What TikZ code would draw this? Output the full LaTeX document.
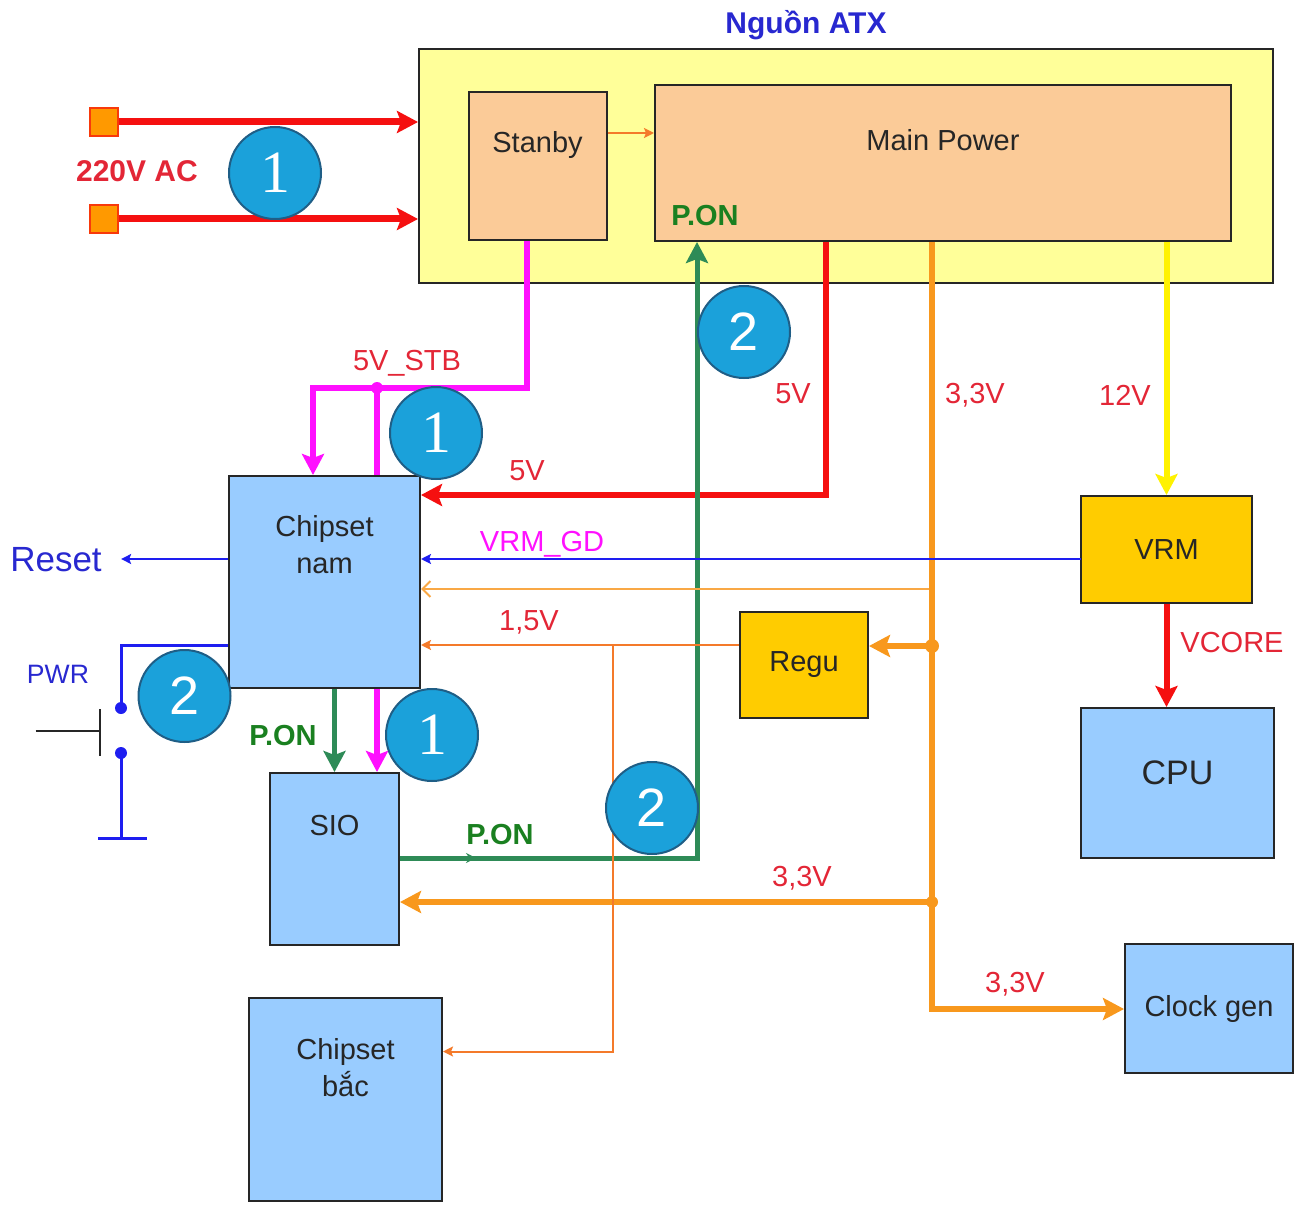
\documentclass[tikz,border=0pt]{standalone}
\usepackage{fontspec}
\setmainfont{Liberation Sans}
\newfontfamily\numserif{Liberation Serif}
\usepackage{tikz}
\usetikzlibrary{arrows.meta,decorations.markings}
\definecolor{boxblue}{HTML}{99CCFF}
\definecolor{peach}{HTML}{FBCB98}
\definecolor{paleyellow}{HTML}{FFFF99}
\definecolor{gold}{HTML}{FFCC00}
\definecolor{badgefill}{HTML}{1BA1DA}
\definecolor{badgeline}{HTML}{1F5E86}
\definecolor{wirered}{HTML}{F51010}
\definecolor{txtred}{HTML}{E32636}
\definecolor{wiremag}{HTML}{FF10FF}
\definecolor{wiregreen}{HTML}{2E8B57}
\definecolor{txtgreen}{HTML}{1A8020}
\definecolor{wireorange}{HTML}{F8981D}
\definecolor{thinorange}{HTML}{F47A2A}
\definecolor{paleorange}{HTML}{F9A845}
\definecolor{wireblue}{HTML}{1E1EF0}
\definecolor{txtblue}{HTML}{2828D0}
\definecolor{acorange}{HTML}{FF9900}
\begin{document}
\begin{tikzpicture}[x=0.5pt,y=-0.5pt,>=Stealth,
  blk/.style={rectangle,draw=black!85,line width=1pt,inner sep=0pt},
  bluebox/.style={blk,fill=boxblue},
  goldbox/.style={blk,fill=gold},
  peachbox/.style={blk,fill=peach},
  txt/.style={font=\fontsize{14.5}{18.5}\selectfont,align=center,text=black!85},
  lbl/.style={font=\fontsize{14.5}{17}\selectfont,text=txtred,inner sep=0pt},
  ponlbl/.style={font=\bfseries\fontsize{14.5}{17}\selectfont,text=txtgreen,inner sep=0pt},
  badge/.style={circle,fill=badgefill,draw=badgeline,line width=1pt,minimum size=46pt,inner sep=0pt,text=white},
  one/.style={badge,font=\numserif\fontsize{30}{30}\selectfont},
  two/.style={badge,font=\fontsize{27}{27}\selectfont},
  bigtip/.style={-{Stealth[length=10.5pt,width=11pt,inset=2pt]}},
  smalltip/.style={-{Stealth[length=5pt,width=5pt,inset=1pt]}},
  acwire/.style={draw=wirered,line width=3.5pt,bigtip},
  stbwire/.style={draw=wiremag,line width=3pt,bigtip},
  v5wire/.style={draw=wirered,line width=3pt,bigtip},
  ponwire/.style={draw=wiregreen,line width=2.5pt,bigtip},
  v33wire/.style={draw=wireorange,line width=3pt,bigtip},
  v12wire/.style={draw=yellow,line width=3pt,bigtip},
  bluewire/.style={draw=wireblue,line width=1pt,smalltip},
  thinwire/.style={draw=thinorange,line width=1pt,smalltip}]
\useasboundingbox (0,0) rectangle (1295,1214);
\node[font=\bfseries\fontsize{15}{18}\selectfont,text=txtblue] (title) at (806,25) {Nguồn ATX};
\node[blk,fill=paleyellow,minimum width=427pt,minimum height=116.5pt] (atx) at (846,166) {};
\node[peachbox,minimum width=69pt,minimum height=74pt,label={[txt,anchor=center,yshift=-27pt]north:Stanby}] (stanby) at (537.5,166) {};
\node[peachbox,minimum width=288pt,minimum height=78pt,label={[txt,anchor=center,yshift=-28pt]north:Main Power}] (main) at (943,163) {};
\node[ponlbl] (pon1) at (705,216) {P.ON};
\node[rectangle,fill=acorange,draw=wirered!70!acorange,line width=0.8pt,minimum size=14pt,inner sep=0pt] (ac1) at (104,122) {};
\node[rectangle,fill=acorange,draw=wirered!70!acorange,line width=0.8pt,minimum size=14pt,inner sep=0pt] (ac2) at (104,219) {};
\node[lbl,font=\bfseries\fontsize{15}{18}\selectfont] (ac) at (137,171) {220V AC};
\node[bluebox,minimum width=95.5pt,minimum height=106pt,label={[txt,anchor=center,yshift=-35pt]north:Chipset\\nam}] (nam) at (324.5,582) {};
\node[bluebox,minimum width=64.5pt,minimum height=86pt,label={[txt,anchor=center,yshift=-27pt]north:SIO}] (sio) at (334.5,859) {};
\node[bluebox,minimum width=96.5pt,minimum height=101.5pt,label={[txt,anchor=center,yshift=-35.5pt]north:Chipset\\bắc}] (bac) at (345.5,1099.5) {};
\node[goldbox,minimum width=64pt,minimum height=53pt,txt] (regu) at (804,665) {Regu};
\node[goldbox,minimum width=85.5pt,minimum height=53.5pt,txt] (vrm) at (1166.5,549.5) {VRM};
\node[bluebox,minimum width=96.5pt,minimum height=75pt,label={[txt,font=\fontsize{17}{20}\selectfont,anchor=center,yshift=5pt]center:CPU}] (cpu) at (1177.5,783) {};
\node[bluebox,minimum width=84pt,minimum height=64.5pt,txt] (clk) at (1209,1008.5) {Clock gen};
\node[font=\fontsize{17.5}{20}\selectfont,text=txtblue,inner xsep=9.5pt,inner ysep=0pt] (reset) at (56,560) {Reset};
\node[font=\fontsize{13.3}{16}\selectfont,text=txtblue,inner sep=0pt] (pwr) at (58,674) {PWR};
\draw[acwire] (ac1.east) -- (ac1.east -| atx.west);
\draw[acwire] (ac2.east) -- (ac2.east -| atx.west);
\coordinate (sbm) at ([yshift=16.5pt]stanby.east);
\draw[thinwire] (sbm) -- (sbm -| main.west);
\coordinate (stbl) at (313,388);
\coordinate (stbj) at (377,388);
\draw[stbwire] ([xshift=-5.5pt]stanby.south) |- (stbl) -- (stbl |- nam.north);
\draw[stbwire,-] (stbj) -- (stbj |- nam.north);
\fill[wiremag] (stbj) circle (3pt);
\draw[stbwire] (stbj |- nam.south) -- (stbj |- sio.north);
\node[lbl] (stb) at (407,363) {5V\_STB};
\coordinate (c5v) at (826,495);
\draw[v5wire] (main.south -| c5v) -- (c5v) -- (c5v -| nam.east);
\node[lbl] (v5a) at (793,394) {5V};
\node[lbl] (v5b) at (527,471) {5V};
\coordinate (cpon) at (697,858);
\draw[ponwire,postaction={decorate},decoration={markings,mark=at position 38pt with {\arrow{Stealth[length=5pt,width=5pt]}}}] (sio.east |- cpon) -- (cpon) -- (cpon |- main.south);
\node[ponlbl] (pon2) at (500,835) {P.ON};
\draw[ponwire] (sio.north |- nam.south) -- (sio.north);
\node[ponlbl] (pon3) at (283,736) {P.ON};
\coordinate (c33) at (932,1009);
\coordinate (j33a) at (932,646);
\coordinate (j33b) at (932,902);
\coordinate (j33c) at (932,589);
\draw[thinwire,draw=paleorange,-{Straight Barb[length=4pt,width=8pt]}] (j33c) -- (j33c -| nam.east);
\draw[v33wire] (main.south -| c33) -- (c33) -- (c33 -| clk.west);
\draw[v33wire] (j33a) -- (j33a -| regu.east);
\draw[v33wire] (j33b) -- (j33b -| sio.east);
\fill[wireorange] (j33a) circle (3.5pt) (j33b) circle (3pt);
\node[lbl] (v33a) at (975,395) {3,3V};
\node[lbl] (v33b) at (802,878) {3,3V};
\node[lbl] (v33c) at (1015,984) {3,3V};
\coordinate (gd) at (1081,559);
\draw[bluewire] (gd) -- (gd -| nam.east);
\draw[bluewire] (gd -| nam.west) -- (gd -| reset.east);
\node[lbl,text=wiremag] (gdl) at (542,544) {VRM\_GD};
\coordinate (c15) at (613,645);
\draw[thinwire] (regu.west |- c15) -- (c15 -| nam.east);
\draw[thinwire] (c15) |- ([yshift=24pt]bac.east);
\node[lbl] (v15) at (529,622) {1,5V};
\draw[v12wire] (vrm.north |- main.south) -- (vrm.north);
\node[lbl] (v12) at (1125,395) {12V};
\draw[v5wire] (vrm.south) -- (vrm.south |- cpu.north);
\node[lbl] (vcore) at (1232,643) {VCORE};
\coordinate (sw1) at (121,708);
\coordinate (sw2) at (121,753);
\coordinate (gnd) at (121,838);
\coordinate (swb) at (99.5,731);
\draw[draw=wireblue,line width=1.5pt] (nam.west |- c15) -| (sw1);
\draw[draw=wireblue,line width=1.5pt] (sw2) -- (gnd);
\draw[draw=wireblue,line width=1.5pt] ([xshift=-11.5pt]gnd) -- ([xshift=13pt]gnd);
\fill[wireblue] (sw1) circle (3pt) (sw2) circle (3pt);
\draw[black!85,line width=1pt] ([xshift=-32pt]swb) -- (swb) ([yshift=11pt]swb) -- ([yshift=-12.5pt]swb);
\node[one] (b1a) at (275,173) {1};
\node[one] (b1b) at (436,433) {1};
\node[one] (b1c) at (432,735) {1};
\node[two] (b2a) at (744,332) {2};
\node[two] (b2b) at (184.5,696) {2};
\node[two] (b2c) at (652,808) {2};
\end{tikzpicture}
\end{document}
